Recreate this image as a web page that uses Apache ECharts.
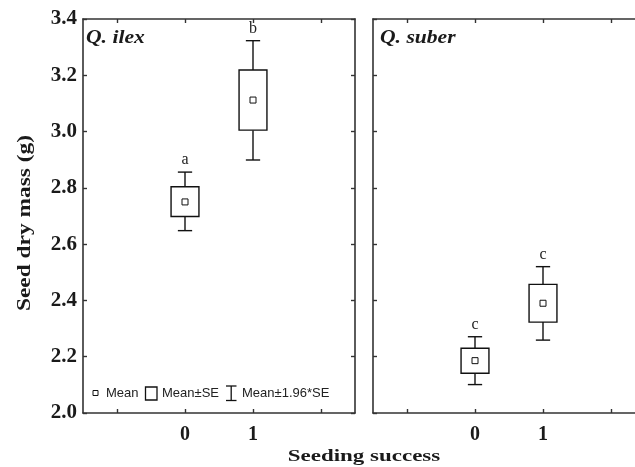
<!DOCTYPE html>
<html><head><meta charset="utf-8">
<script src="https://cdn.jsdelivr.net/npm/echarts@6/dist/echarts.min.js"></script>
<style>html,body{margin:0;padding:0;background:#fff}#c{width:635px;height:467px}</style>
</head><body><div id="c"></div>
<script>
// ---- data ----
const categories = ['-1', '0', '1', '2'];
const labelledTicks = ['0', '1'];
const yMin = 2.0, yMax = 3.4, yStep = 0.2;
const panelNames = ['Q. ilex', 'Q. suber'];
const groupX = ['0', '1'];

const ilexMean   = [2.750, 3.112];
const ilexSeLow  = [2.698, 3.005];
const ilexSeHigh = [2.804, 3.219];
const ilexCiLow  = [2.648, 2.899];
const ilexCiHigh = [2.856, 3.323];
const ilexLetters = ['a', 'b'];

const suberMean   = [2.186, 2.390];
const suberSeLow  = [2.141, 2.323];
const suberSeHigh = [2.230, 2.457];
const suberCiLow  = [2.101, 2.259];
const suberCiHigh = [2.271, 2.520];
const suberLetters = ['c', 'c'];

const legendItems = ['Mean', 'Mean±SE', 'Mean±1.96*SE'];
const yTitle = 'Seed dry mass (g)';
const xTitle = 'Seeding success';

// ---- styles ----
const axisColor = '#333';
const serif = '"Liberation Serif", "Times New Roman", serif';
const sans = '"Liberation Sans", Arial, sans-serif';

const chart = echarts.init(document.getElementById('c'), null, {renderer: 'canvas'});

function xAxisFor(grid, pos, labels) {
  return {
    type: 'category', gridIndex: grid, position: pos, data: categories, boundaryGap: true,
    axisLine: {show: true, onZero: false, lineStyle: {color: axisColor, width: 1.6}},
    axisTick: {show: true, inside: true, length: 4, alignWithLabel: true, interval: 0,
               lineStyle: {color: axisColor, width: 1.4}},
    axisLabel: {show: labels, interval: 0, margin: 12,
                formatter: v => labelledTicks.includes(v) ? v : '',
                fontFamily: serif, fontWeight: 'bold', fontSize: 20, color: '#1a1a1a'},
    splitLine: {show: false}
  };
}
function yAxisFor(grid, pos, labels) {
  return {
    type: 'value', gridIndex: grid, position: pos, min: yMin, max: yMax, interval: yStep,
    axisLine: {show: true, onZero: false, lineStyle: {color: axisColor, width: 1.6}},
    axisTick: {show: true, inside: true, length: 4, lineStyle: {color: axisColor, width: 1.4}},
    axisLabel: {show: labels, margin: 6, formatter: v => v.toFixed(1),
                fontFamily: serif, fontWeight: 'bold', fontSize: 21, color: '#1a1a1a'},
    splitLine: {show: false}
  };
}

function makeRender(letters) {
  return function (params, api) {
    const x = api.value(0);
    const pM = api.coord([x, api.value(1)]);
    const pSL = api.coord([x, api.value(2)]);
    const pSH = api.coord([x, api.value(3)]);
    const pCL = api.coord([x, api.value(4)]);
    const pCH = api.coord([x, api.value(5)]);
    const band = api.size([1, 0])[0];
    const bw = band * 0.41, cw = band * 0.21, ms = 6;
    const cx = pM[0];
    const ls = {stroke: '#111', lineWidth: 1.4, fill: null};
    return {
      type: 'group',
      children: [
        {type: 'line', shape: {x1: cx, y1: pCH[1], x2: cx, y2: pSH[1]}, style: ls},
        {type: 'line', shape: {x1: cx, y1: pSL[1], x2: cx, y2: pCL[1]}, style: ls},
        {type: 'line', shape: {x1: cx - cw / 2, y1: pCH[1], x2: cx + cw / 2, y2: pCH[1]}, style: ls},
        {type: 'line', shape: {x1: cx - cw / 2, y1: pCL[1], x2: cx + cw / 2, y2: pCL[1]}, style: ls},
        {type: 'rect', shape: {x: cx - bw / 2, y: pSH[1], width: bw, height: pSL[1] - pSH[1]},
         style: {stroke: '#111', lineWidth: 1.4, fill: '#fff'}},
        {type: 'rect', shape: {x: cx - ms / 2, y: pM[1] - ms / 2, width: ms, height: ms},
         style: {stroke: '#111', lineWidth: 1, fill: '#fff'}},
        {type: 'text', x: cx, y: pCH[1] - 4,
         style: {text: letters[params.dataIndex], align: 'center', verticalAlign: 'bottom',
                 font: '16px ' + serif, fill: '#222'}}
      ]
    };
  };
}

function rows(mean, sl, sh, cl, ch) {
  return groupX.map((c, i) => [c, mean[i], sl[i], sh[i], cl[i], ch[i]]);
}

const option = {
  animation: false,
  backgroundColor: '#fff',
  grid: [
    {left: 83, top: 19, width: 272, height: 394, outerBoundsMode: 'none', containLabel: false},
    {left: 373, top: 19, width: 272, height: 394, outerBoundsMode: 'none', containLabel: false}
  ],
  xAxis: [xAxisFor(0, 'bottom', true), xAxisFor(0, 'top', false),
          xAxisFor(1, 'bottom', true), xAxisFor(1, 'top', false)],
  yAxis: [yAxisFor(0, 'left', true), yAxisFor(0, 'right', false),
          yAxisFor(1, 'left', false), yAxisFor(1, 'right', false)],
  series: [
    {type: 'custom', xAxisIndex: 0, yAxisIndex: 0, clip: false,
     encode: {x: 0, y: [1, 2, 3, 4, 5]},
     data: rows(ilexMean, ilexSeLow, ilexSeHigh, ilexCiLow, ilexCiHigh),
     renderItem: makeRender(ilexLetters)},
    {type: 'custom', xAxisIndex: 2, yAxisIndex: 2, clip: false,
     encode: {x: 0, y: [1, 2, 3, 4, 5]},
     data: rows(suberMean, suberSeLow, suberSeHigh, suberCiLow, suberCiHigh),
     renderItem: makeRender(suberLetters)}
  ],
  graphic: [
    {type: 'text', x: 86, y: 38, scaleX: 1.2,
     style: {text: panelNames[0], font: 'italic bold 18px ' + serif, fill: '#1a1a1a', verticalAlign: 'middle'}},
    {type: 'text', x: 380, y: 38, scaleX: 1.2,
     style: {text: panelNames[1], font: 'italic bold 18px ' + serif, fill: '#1a1a1a', verticalAlign: 'middle'}},
    {type: 'text', x: 25, y: 223, rotation: Math.PI / 2, scaleX: 1.3,
     style: {text: yTitle, font: 'bold 18px ' + serif, fill: '#1a1a1a', align: 'center', verticalAlign: 'middle'}},
    {type: 'text', x: 364, y: 457, scaleX: 1.35,
     style: {text: xTitle, font: 'bold 17px ' + serif, fill: '#1a1a1a', align: 'center', verticalAlign: 'middle'}},
    // legend
    {type: 'rect', shape: {x: 93, y: 390.5, width: 5, height: 5}, style: {stroke: '#111', lineWidth: 1, fill: '#fff'}},
    {type: 'text', x: 106, y: 393.5, style: {text: legendItems[0], font: '13px ' + sans, fill: '#222', verticalAlign: 'middle'}},
    {type: 'rect', shape: {x: 145.5, y: 387, width: 11.5, height: 13}, style: {stroke: '#111', lineWidth: 1.3, fill: '#fff'}},
    {type: 'text', x: 162, y: 393.5, style: {text: legendItems[1], font: '13px ' + sans, fill: '#222', verticalAlign: 'middle'}},
    {type: 'polyline', shape: {points: [[226, 386], [236.5, 386]]}, style: {stroke: '#111', lineWidth: 1.3}},
    {type: 'polyline', shape: {points: [[231.2, 386], [231.2, 400.5]]}, style: {stroke: '#111', lineWidth: 1.3}},
    {type: 'polyline', shape: {points: [[226, 400.5], [236.5, 400.5]]}, style: {stroke: '#111', lineWidth: 1.3}},
    {type: 'text', x: 242, y: 393.5, style: {text: legendItems[2], font: '13px ' + sans, fill: '#222', verticalAlign: 'middle'}}
  ]
};
chart.setOption(option);
</script>
</body></html>
